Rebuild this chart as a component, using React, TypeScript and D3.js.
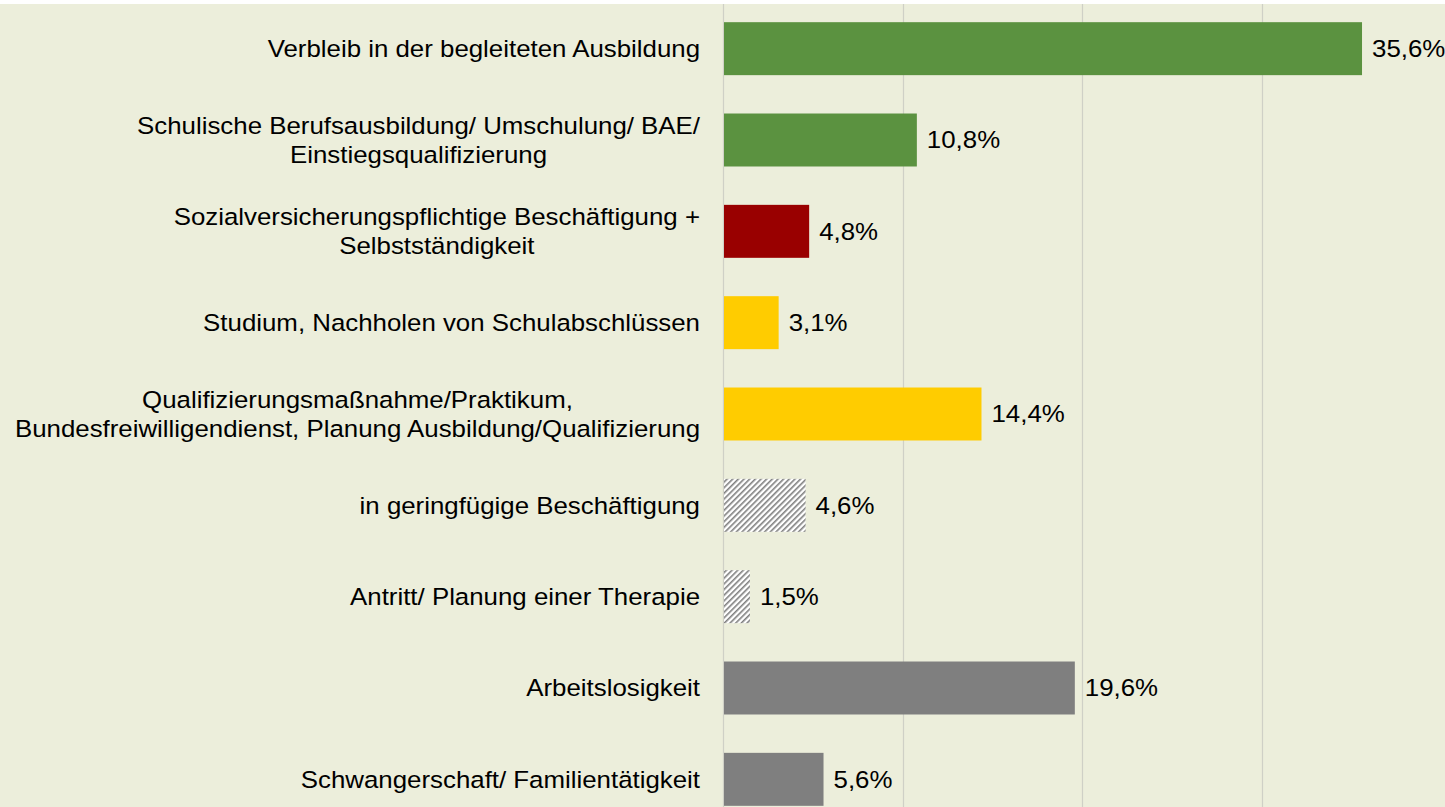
import React, { useEffect, useRef } from "react";
import * as d3 from "d3";

const categories: string[][] = [
  ["Verbleib in der begleiteten Ausbildung"],
  ["Schulische Berufsausbildung/ Umschulung/ BAE/", "Einstiegsqualifizierung"],
  ["Sozialversicherungspflichtige Beschäftigung +", "Selbstständigkeit"],
  ["Studium, Nachholen von Schulabschlüssen"],
  ["Qualifizierungsmaßnahme/Praktikum,", "Bundesfreiwilligendienst, Planung Ausbildung/Qualifizierung"],
  ["in geringfügige Beschäftigung"],
  ["Antritt/ Planung einer Therapie"],
  ["Arbeitslosigkeit"],
  ["Schwangerschaft/ Familientätigkeit"],
];
const values: number[] = [35.6, 10.8, 4.8, 3.1, 14.4, 4.6, 1.5, 19.6, 5.6];
const fills: string[] = ["#5b9240", "#5b9240", "#990000", "#ffcc00", "#ffcc00", "hatch", "hatch", "#7f7f7f", "#7f7f7f"];
const gridTicks: number[] = [0, 10, 20, 30];

const W = 1445;
const H = 807;
const FONT = "'Liberation Sans', Arial, Helvetica, sans-serif";
const FS = 23.5;
const SX = 1.1;

export default function App() {
  const ref = useRef<SVGSVGElement | null>(null);
  useEffect(() => {
    const svg = d3.select(ref.current!);
    svg.selectAll("*").remove();

    const x = d3.scaleLinear().domain([0, 40]).range([723, 1441]);
    const idx = categories.map((_, i) => String(i));
    const y = d3.scaleBand().domain(idx).range([3, 825]).paddingInner(0.42).paddingOuter(0.21);

    const defs = svg.append("defs");
    const pat = defs
      .append("pattern")
      .attr("id", "hatch")
      .attr("patternUnits", "userSpaceOnUse")
      .attr("width", 4)
      .attr("height", 4)
      .attr("patternTransform", "rotate(45)");
    pat.append("rect").attr("width", 4).attr("height", 4).attr("fill", "#ffffff");
    pat.append("rect").attr("x", 0).attr("width", 1.6).attr("height", 4).attr("fill", "#7f7f7f");

    svg.append("rect").attr("x", 0).attr("y", 0).attr("width", W).attr("height", H).attr("fill", "#ffffff");
    svg.append("rect").attr("x", 0).attr("y", 4).attr("width", W).attr("height", H - 4).attr("fill", "#eceedb");

    svg
      .append("g")
      .selectAll("line")
      .data(gridTicks)
      .join("line")
      .attr("x1", (d) => Math.round(x(d)) + 0.5)
      .attr("x2", (d) => Math.round(x(d)) + 0.5)
      .attr("y1", 4)
      .attr("y2", H)
      .attr("stroke", "#cfd0c6")
      .attr("stroke-width", 1.2);

    svg
      .append("g")
      .selectAll("rect")
      .data(values)
      .join("rect")
      .attr("x", x(0) + 1)
      .attr("y", (_, i) => y(String(i))!)
      .attr("width", (d) => x(d) - x(0) - 1)
      .attr("height", y.bandwidth())
      .attr("fill", (_, i) => (fills[i] === "hatch" ? "url(#hatch)" : fills[i]));

    svg
      .append("g")
      .selectAll("g")
      .data(values)
      .join("g")
      .attr("transform", (d, i) => `translate(${x(d) + 10},${y(String(i))! + y.bandwidth() / 2}) scale(${SX},1)`)
      .append("text")
      .attr("dy", "0.35em")
      .attr("font-family", FONT)
      .attr("font-size", FS)
      .attr("fill", "#000")
      .text((d) => d.toFixed(1).replace(".", ",") + "%");

    const lab = svg.append("g");
    categories.forEach((lines, i) => {
      const cy = y(String(i))! + y.bandwidth() / 2;
      const lh = 29;
      const g = lab.append("g").attr("transform", `translate(700,0) scale(${SX},1)`);
      const texts = lines.map((ln, j) =>
        g
          .append("text")
          .attr("y", cy + (j - (lines.length - 1) / 2) * lh)
          .attr("dy", "0.35em")
          .attr("font-family", FONT)
          .attr("font-size", FS)
          .attr("fill", "#000")
          .attr("text-anchor", "middle")
          .text(ln)
      );
      const widths = texts.map((t) => (t.node() as SVGTextElement).getComputedTextLength());
      const maxW = Math.max(...widths);
      texts.forEach((t) => t.attr("x", -maxW / 2));
    });
  }, []);

  return (
    <svg
      ref={ref}
      width={W}
      height={H}
      style={{ position: "fixed", left: 0, top: 0, display: "block" }}
    />
  );
}
